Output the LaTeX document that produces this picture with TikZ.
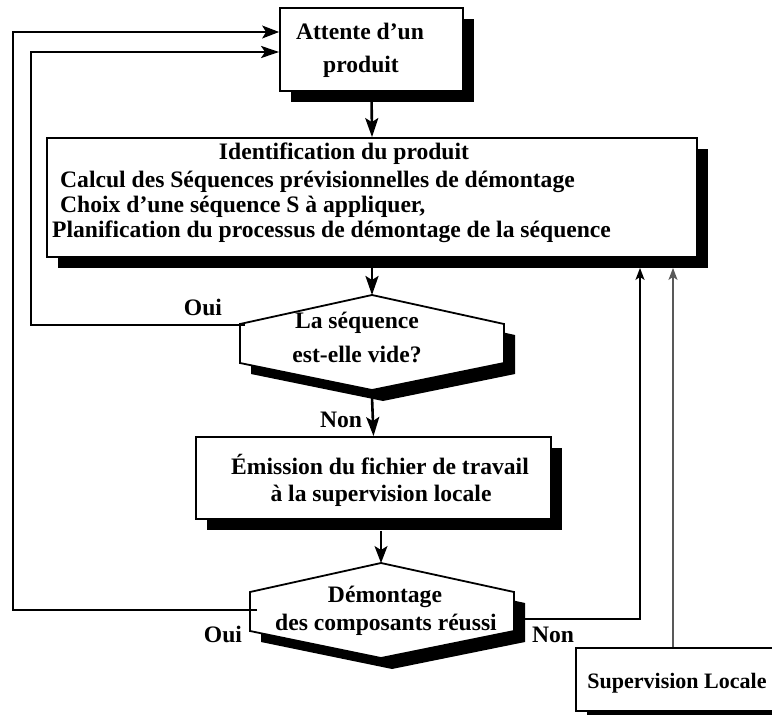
\documentclass[tikz,border=0pt]{standalone}
\usepackage{fontspec}
\setmainfont{Liberation Serif}
\usetikzlibrary{arrows.meta,shadows,calc}
\begin{document}
\begin{tikzpicture}[x=1pt,y=-1pt,
  box/.style={draw, fill=white, line width=1.8pt, inner sep=0pt,
    drop shadow={shadow xshift=11pt, shadow yshift=-11pt, fill=black, opacity=1, draw=none}},
  hexbody/.style={draw, fill=white, line width=1.8pt},
  hexshadow/.style={fill=black},
  txt/.style={anchor=base, inner sep=0pt, font=\fontsize{23.6}{28}\selectfont\bfseries},
  txtw/.style={txt, anchor=base west},
  heavy/.style={line width=2.6pt, -{Stealth[length=19pt,width=13pt,inset=4pt]}},
  heavyloop/.style={line width=2.4pt, -{Stealth[length=18pt,width=12pt,inset=4pt]}},
  light/.style={line width=1.2pt, -{Stealth[length=17pt,width=13pt,inset=4pt]}},
  upline/.style={line width=1.8pt, -{Stealth[length=12pt,width=9pt,inset=3pt]}},
  supline/.style={line width=1.2pt, black!65, -{Stealth[length=12pt,width=9pt,inset=3pt]}}
]
\useasboundingbox (0,0) rectangle (772,715);
\clip (0,0) rectangle (772,715);

% helper coordinates
\coordinate (y32) at (0,32);
\coordinate (y52) at (0,52);

% boxes
\node[box, minimum width=183pt, minimum height=83pt] (box1) at (371.5,49.5) {};
\node[box, minimum width=650pt, minimum height=119pt] (main) at (372,197.5) {};
\node[box, minimum width=355pt, minimum height=82pt] (box3) at (373.5,478) {};
\node[box, anchor=north west, minimum width=240pt, minimum height=63pt] (sup) at (575,647) {};

% Non loop from hexagon 2 to the main box (drawn under hexagon 2)
\coordinate (h2r) at (514,619);
\draw[upline] (h2r) -| ($(main.south -| 640,0)+(0,10)$) coordinate (mainIn1);

% hexagon 1
\begin{scope}[shift={(372,295)}]
  \fill[hexshadow] (11,11) -- (143,40) -- (143,79) -- (11,106) -- (-121,79) -- (-121,40) -- cycle;
  \draw[hexbody] (0,0) coordinate (h1top) -- (132,29) -- (132,68) -- (0,95) coordinate (h1bot) -- (-132,68) -- (-132,29) coordinate (h1ul) -- cycle;
  \coordinate (h1in) at (-127,30);
\end{scope}

% hexagon 2
\begin{scope}[shift={(381,563)}]
  \fill[hexshadow] (11,11) -- (144,40) -- (144,79) -- (11,106) -- (-120,79) -- (-120,40) -- cycle;
  \draw[hexbody] (0,0) coordinate (h2top) -- (133,29) -- (133,68) -- (0,95) coordinate (h2bot) -- (-131,68) -- (-131,29) -- cycle;
  \coordinate (h2in) at (-124,47);
\end{scope}

% supervision line
\coordinate (supTop) at (673,647);
\draw[supline] (supTop) -- ($(supTop |- main.south)+(0,10)$) coordinate (mainIn2);

% loops back to the waiting box
\draw[light] (h2in) -| (13,32) -- (box1.west |- y32);
\draw[heavyloop] (h1in) -| (31,52) -- (box1.west |- y52);

% main flow arrows
\draw[heavy] (box1.south) -- (main.north);
\draw[heavy] ($(main.south)+(0,10)$) -- (h1top);
\draw[heavy] ($(h1bot)+(0,7)$) -- (box3.north);
\draw[light] ($(h2top |- box3.south)+(0,11)$) -- (h2top);

% texts
\node[txt] (t1a) at (360,39) {Attente d’un};
\node[txt] (t1b) at (361,72) {produit};

\node[txt] (t2a) at (344,159) {Identification du produit};
\node[txtw] (t2b) at (60,187) {Calcul des Séquences prévisionnelles de démontage};
\node[txtw] (t2c) at (60,212) {Choix d’une séquence S à appliquer,};
\node[txtw] (t2d) at (52,237) {Planification du processus de démontage de la séquence};

\node[txt] (t3a) at (357,328) {La séquence};
\node[txt] (t3b) at (357,362) {est-elle vide?};

\node[txt] (t4a) at (380,474) {Émission du fichier de travail};
\node[txt] (t4b) at (381,501) {à la supervision locale};

\node[txt] (t5a) at (385,602) {Démontage};
\node[txt] (t5b) at (386,630) {des composants réussi};

\node[txt] (oui1) at (203,315) {Oui};
\node[txt] (non1) at (341,427) {Non};
\node[txt] (oui2) at (223,642) {Oui};
\node[txt] (non2) at (553,642) {Non};

\node[txt, font=\fontsize{22}{26}\selectfont\bfseries] (t6) at (677,688) {Supervision Locale};
\end{tikzpicture}
\end{document}
